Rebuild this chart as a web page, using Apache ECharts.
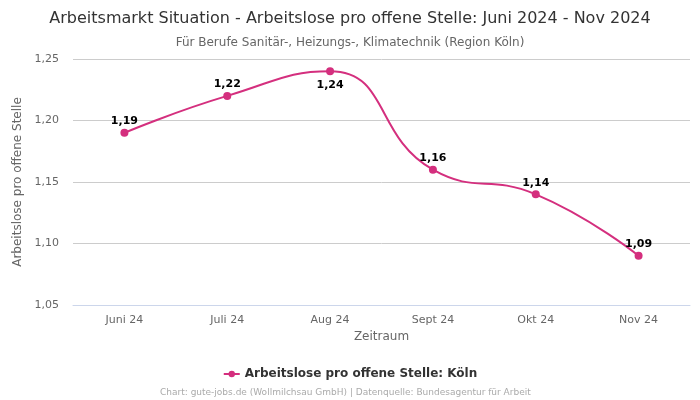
<!DOCTYPE html>
<html>
<head>
<meta charset="utf-8">
<script src="https://cdn.jsdelivr.net/npm/echarts@6/dist/echarts.min.js"></script>
<style>html,body{margin:0;padding:0;background:#fff}#c{width:700px;height:400px}</style>
</head>
<body>
<div id="c"></div>
<script>
const categories = ['Juni 24', 'Juli 24', 'Aug 24', 'Sept 24', 'Okt 24', 'Nov 24'];
const values = [1.19, 1.22, 1.24, 1.16, 1.14, 1.09];
const labelBelow = [false, false, true, false, false, false];
const seriesName = 'Arbeitslose pro offene Stelle: Köln';
const color = '#d42f7e';
const fmt = v => v.toFixed(2).replace('.', ',');

const chart = echarts.init(document.getElementById('c'), null, {renderer: 'canvas'});
chart.setOption({
  animation: false,
  textStyle: {fontFamily: 'DejaVu Sans'},
  title: [
    {text: 'Arbeitsmarkt Situation - Arbeitslose pro offene Stelle: Juni 2024 - Nov 2024',
     left: 'center', top: 6,
     textStyle: {fontSize: 16, fontWeight: 'normal', color: '#333', fontFamily: 'DejaVu Sans'}},
    {text: 'Für Berufe Sanitär-, Heizungs-, Klimatechnik (Region Köln)',
     left: 'center', top: 32,
     textStyle: {fontSize: 12, fontWeight: 'normal', color: '#666', fontFamily: 'DejaVu Sans'}},
    {text: 'Chart: gute-jobs.de (Wollmilchsau GmbH) | Datenquelle: Bundesagentur für Arbeit',
     left: 155, top: 383,
     textStyle: {fontSize: 9, fontWeight: 'normal', color: '#aaa', fontFamily: 'DejaVu Sans'}}
  ],
  legend: {
    top: 363, left: 'center',
    itemWidth: 16, itemHeight: 8,
    textStyle: {fontSize: 12, fontWeight: 'bold', color: '#333'},
    data: [seriesName]
  },
  grid: {left: 73, right: 10, top: 59, bottom: 95, containLabel: false},
  xAxis: {
    type: 'category', data: categories, boundaryGap: true,
    name: 'Zeitraum', nameLocation: 'middle', nameGap: 22,
    nameTextStyle: {fontSize: 12, color: '#666'},
    axisLine: {show: true, lineStyle: {color: '#ccd6eb'}},
    axisTick: {show: false},
    axisLabel: {fontSize: 11, color: '#666', margin: 10}
  },
  yAxis: {
    type: 'value', min: 1.05, max: 1.25, interval: 0.05,
    name: 'Arbeitslose pro offene Stelle', nameLocation: 'middle', nameGap: 43,
    nameTextStyle: {fontSize: 12, color: '#666'},
    axisLine: {show: false}, axisTick: {show: false},
    splitLine: {lineStyle: {color: '#ccc'}},
    axisLabel: {fontSize: 11, color: '#666', formatter: v => fmt(v), margin: 14}
  },
  series: [{
    name: seriesName, type: 'line', smooth: 0.5,
    data: values.map((v, i) => ({value: v, label: {position: labelBelow[i] ? 'bottom' : 'top', distance: labelBelow[i] ? 4 : 2}})),
    symbol: 'circle', symbolSize: 8,
    itemStyle: {color: color},
    lineStyle: {color: color, width: 2},
    label: {show: true, formatter: p => fmt(p.value), fontSize: 11, fontWeight: 'bold', color: '#000'}
  }]
});
</script>
</body>
</html>
